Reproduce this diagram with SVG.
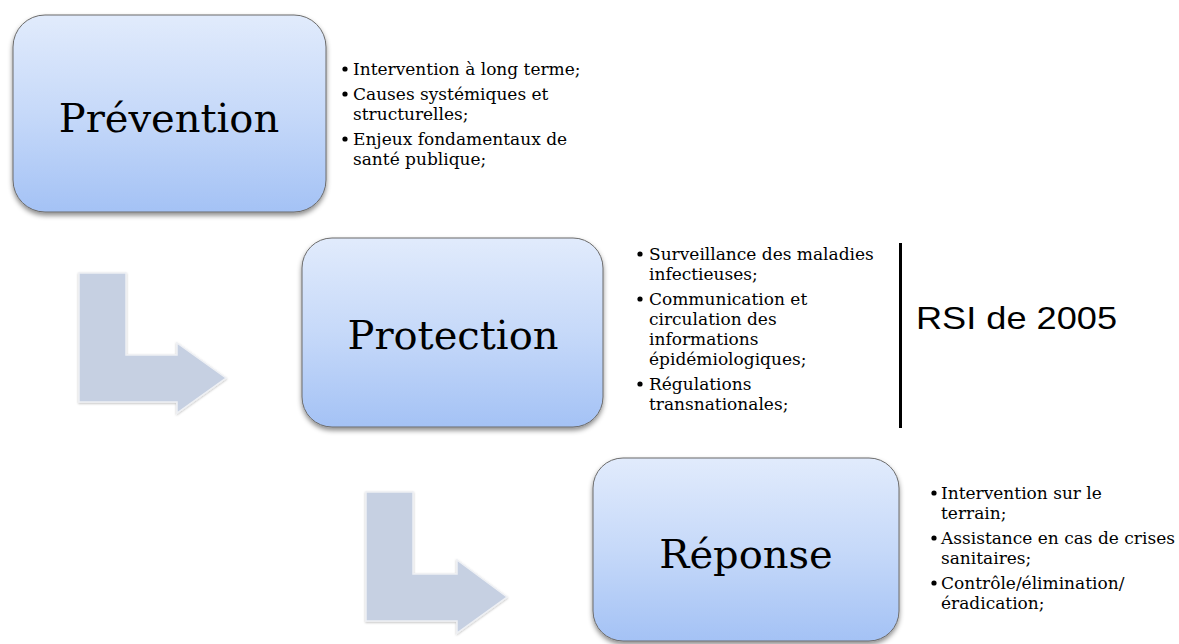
<svg xmlns="http://www.w3.org/2000/svg" width="1179" height="644" viewBox="0 0 1179 644">
<defs>
<linearGradient id="boxGrad" x1="0" y1="0" x2="0" y2="1">
<stop offset="0" stop-color="#e1ebfc"/>
<stop offset="0.5" stop-color="#c6d9f9"/>
<stop offset="1" stop-color="#a4c2f5"/>
</linearGradient>
<filter id="shadow" x="-10%" y="-10%" width="120%" height="125%">
<feDropShadow dx="0" dy="3" stdDeviation="2.5" flood-color="#000" flood-opacity="0.45"/>
</filter>
<filter id="ashadow" x="-10%" y="-10%" width="120%" height="120%">
<feDropShadow dx="0" dy="1" stdDeviation="1.2" flood-color="#000" flood-opacity="0.25"/>
</filter>
<style>
.box{fill:url(#boxGrad);stroke:#6b6b6b;stroke-width:1;filter:url(#shadow)}
.title{font-family:"DejaVu Serif","Liberation Serif",serif;font-size:40px;fill:#000;text-anchor:middle}
.item{font-family:"DejaVu Serif","Liberation Serif",serif;font-size:17px;fill:#000}
.arrow{fill:#c6d0e2;stroke:#eef0f4;stroke-width:1.5;filter:url(#ashadow)}
.rsi{font-family:"Liberation Sans",Arial,sans-serif;font-size:32px;fill:#000}
</style>
</defs>
<rect width="1179" height="644" fill="#fff"/>

<g id="connectors">
<polygon class="arrow" points="79,273 126,273 126,355 177,355 177,343 226,378 177,413 177,402 79,402"/>
<polygon class="arrow" points="366,492 413,492 413,574 457,574 457,560 507,597 457,633 457,621 366,621"/>
</g>

<g id="prevention">
<rect class="box" x="13" y="15" width="313" height="197" rx="32" ry="32"/>
<text class="title" x="169" y="132">Prévention</text>
</g>
<g id="prevention-items" class="item">
<circle cx="345" cy="69" r="2.6"/>
<text class="item" x="353" y="75">Intervention à long terme;</text>
<circle cx="345" cy="94" r="2.6"/>
<text class="item" x="353" y="100">Causes systémiques et</text>
<text class="item" x="353" y="120">structurelles;</text>
<circle cx="345" cy="139" r="2.6"/>
<text class="item" x="353" y="145">Enjeux fondamentaux de</text>
<text class="item" x="353" y="165">santé publique;</text>
</g>

<g id="protection">
<rect class="box" x="302" y="238" width="301" height="189" rx="30" ry="30"/>
<text class="title" x="453" y="349">Protection</text>
</g>
<g id="protection-items">
<circle cx="640" cy="254" r="2.6"/>
<text class="item" x="649" y="260">Surveillance des maladies</text>
<text class="item" x="649" y="280">infectieuses;</text>
<circle cx="640" cy="299" r="2.6"/>
<text class="item" x="649" y="305">Communication et</text>
<text class="item" x="649" y="325">circulation des</text>
<text class="item" x="649" y="345">informations</text>
<text class="item" x="649" y="365">épidémiologiques;</text>
<circle cx="640" cy="384" r="2.6"/>
<text class="item" x="649" y="390">Régulations</text>
<text class="item" x="649" y="410">transnationales;</text>
</g>

<g id="rsi">
<rect x="899" y="243" width="3" height="185" fill="#000"/>
<text class="rsi" x="916" y="329" textLength="201" lengthAdjust="spacingAndGlyphs">RSI de 2005</text>
</g>

<g id="reponse">
<rect class="box" x="593" y="458" width="306" height="183" rx="30" ry="30"/>
<text class="title" x="746" y="568">Réponse</text>
</g>
<g id="reponse-items">
<circle cx="934" cy="493" r="2.6"/>
<text class="item" x="941" y="499">Intervention sur le</text>
<text class="item" x="941" y="519">terrain;</text>
<circle cx="934" cy="538" r="2.6"/>
<text class="item" x="941" y="544">Assistance en cas de crises</text>
<text class="item" x="941" y="564">sanitaires;</text>
<circle cx="934" cy="583" r="2.6"/>
<text class="item" x="941" y="589">Contrôle/élimination/</text>
<text class="item" x="941" y="609">éradication;</text>
</g>
</svg>
